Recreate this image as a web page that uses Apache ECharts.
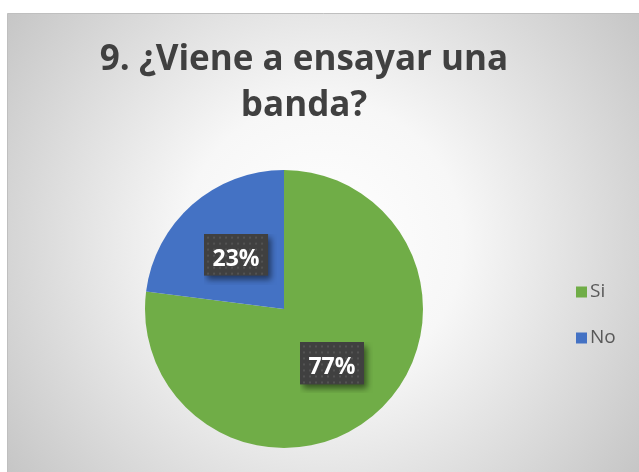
<!DOCTYPE html>
<html>
<head>
<meta charset="utf-8">
<script src="https://cdn.jsdelivr.net/npm/echarts@6/dist/echarts.min.js"></script>
<style>
  html, body { margin: 0; padding: 0; background: #ffffff; }
  #chart { width: 639px; height: 472px; }
</style>
</head>
<body>
<div id="chart"></div>
<script>
// Survey question 9 answers
const titleText = '9. ¿Viene a ensayar una\nbanda?';
const categories = ['Si', 'No'];
const percentages = [77, 23];
const sliceColors = ['#70AD47', '#4472C4'];

// Label box geometry; the tile carries its own drop shadow in a margin
const labelW = 52, labelH = 22, padX = 6, padY = 10, shadowMargin = 9;
const boxW = labelW + padX * 2, boxH = labelH + padY * 2;

// Dark dotted tile used behind the percentage labels
function makeDotTile() {
  const c = document.createElement('canvas');
  c.width = boxW + shadowMargin; c.height = boxH + shadowMargin;
  const g = c.getContext('2d');
  g.save();
  g.shadowColor = 'rgba(0,0,0,0.5)';
  g.shadowBlur = 6;
  g.shadowOffsetX = 3;
  g.shadowOffsetY = 4;
  g.fillStyle = '#404040';
  g.fillRect(0, 0, boxW, boxH);
  g.restore();
  g.fillStyle = '#535353';
  for (let y = 3; y < boxH - 1; y += 6) {
    for (let x = 3; x < boxW - 1; x += 6) {
      g.fillRect(x, y, 2, 2);
    }
  }
  return c;
}

const dotTile = makeDotTile();

const chart = echarts.init(document.getElementById('chart'), null, { renderer: 'canvas' });

chart.setOption({
  animation: false,
  graphic: [{
    type: 'rect',
    silent: true,
    z: -10,
    shape: { x: 7.5, y: 13.5, width: 640, height: 470 },
    style: {
      fill: {
        type: 'radial', x: 323, y: 242, r: 400, global: true,
        colorStops: [
          { offset: 0, color: '#ffffff' },
          { offset: 0.35, color: '#f7f7f7' },
          { offset: 1, color: '#c4c4c4' }
        ]
      },
      stroke: '#bfbfbf',
      lineWidth: 1
    }
  }],
  title: {
    text: titleText,
    left: 299,
    top: 32,
    textAlign: 'center',
    textStyle: {
      fontFamily: 'Open Sans',
      fontWeight: 'bold',
      fontSize: 35,
      lineHeight: 46,
      color: '#404040'
    }
  },
  legend: {
    orient: 'vertical',
    left: 571,
    top: 277,
    itemWidth: 11,
    itemHeight: 11,
    itemGap: 26,
    icon: 'rect',
    data: categories,
    textStyle: {
      fontFamily: 'Open Sans',
      fontSize: 19,
      lineHeight: 20,
      color: '#595959',
      padding: [0, 0, 0, -2]
    }
  },
  series: [{
    type: 'pie',
    center: [284, 309],
    radius: 139,
    startAngle: 90,
    clockwise: true,
    avoidLabelOverlap: false,
    itemStyle: { borderWidth: 0 },
    emphasis: { disabled: true },
    label: {
      show: true,
      position: 'inside',
      formatter: '{c}%',
      fontFamily: 'Open Sans',
      fontWeight: 'bold',
      fontSize: 23,
      color: '#ffffff',
      width: labelW,
      height: labelH,
      lineHeight: labelH,
      overflow: 'none',
      align: 'center',
      verticalAlign: 'middle',
      padding: [padY, padX + shadowMargin, padY + shadowMargin, padX],
      offset: [shadowMargin / 2, shadowMargin / 2],
      backgroundColor: { image: dotTile }
    },
    labelLine: { show: false },
    data: categories.map((name, i) => ({
      name: name,
      value: percentages[i],
      itemStyle: { color: sliceColors[i] }
    }))
  }]
});
</script>
</body>
</html>
